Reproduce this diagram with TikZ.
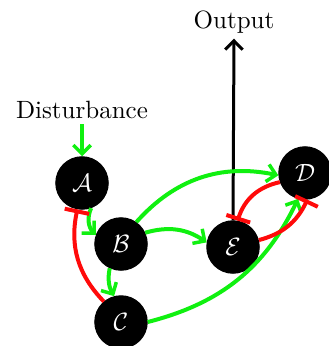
\documentclass[tikz,border=0pt]{standalone}
\usepackage{amsmath,amssymb}
\usepackage{tikz}
\usetikzlibrary{arrows.meta,positioning}
\definecolor{actgreen}{HTML}{10F010}
\definecolor{inhred}{HTML}{FF0A0A}

\begin{document}
\begin{tikzpicture}[
			x=0.4pt,y=-0.4pt,
			gen/.style={circle,fill=black,draw=black,minimum size=21pt,inner sep=0pt,text=white},
			lbl/.style={inner sep=2pt,font=\normalsize},
			act/.style={-{Straight Barb[length=3.5pt,width=7pt,line width=1.4pt]},line width=1.6pt,actgreen},
			inh/.style={-{Bar[width=10pt,line width=1.6pt]},line width=1.6pt,inhred},
			outarr/.style={-{Straight Barb[length=3.5pt,width=7pt,line width=1.2pt]},line width=1.2pt,black}
			]
			\useasboundingbox (0,0) rectangle (328,346);
			\node[gen] (A) at (82,183) {$\mathcal{A}$};
			\node[gen] (B) at (121,244) {$\mathcal{B}$};
			\node[gen] (C) at (121,322) {$\mathcal{C}$};
			\node[gen] (E) at (233,247) {$\mathcal{E}$};
			\node[gen] (D) at (305,173) {$\mathcal{D}$};
			\node[lbl] (dist) at (82,110) {Disturbance};
			\node[lbl] (outp) at (234,22) {Output};
			\draw[act] (dist)--(A);
			\draw[outarr] (E.north)--(outp.south);
			\draw[act] (A.290) to[bend right=35] (B.160);
			\draw[act] (B.245) to[bend right=20] (C.105);
			\draw[inh] (C.130) to[bend left=28] (A.260);
			\draw[act] (B.25) to[bend left=25] (E.170);
			\draw[act] (B.55) to[bend left=30] (D.185);
			\draw[act] (C.0) to[bend right=25] (D.255);
			\draw[inh] (E.15) to[bend right=25] (D.275);
			\draw[inh] (D.200) to[bend right=30] (E.80);
		\end{tikzpicture}
\end{document}
